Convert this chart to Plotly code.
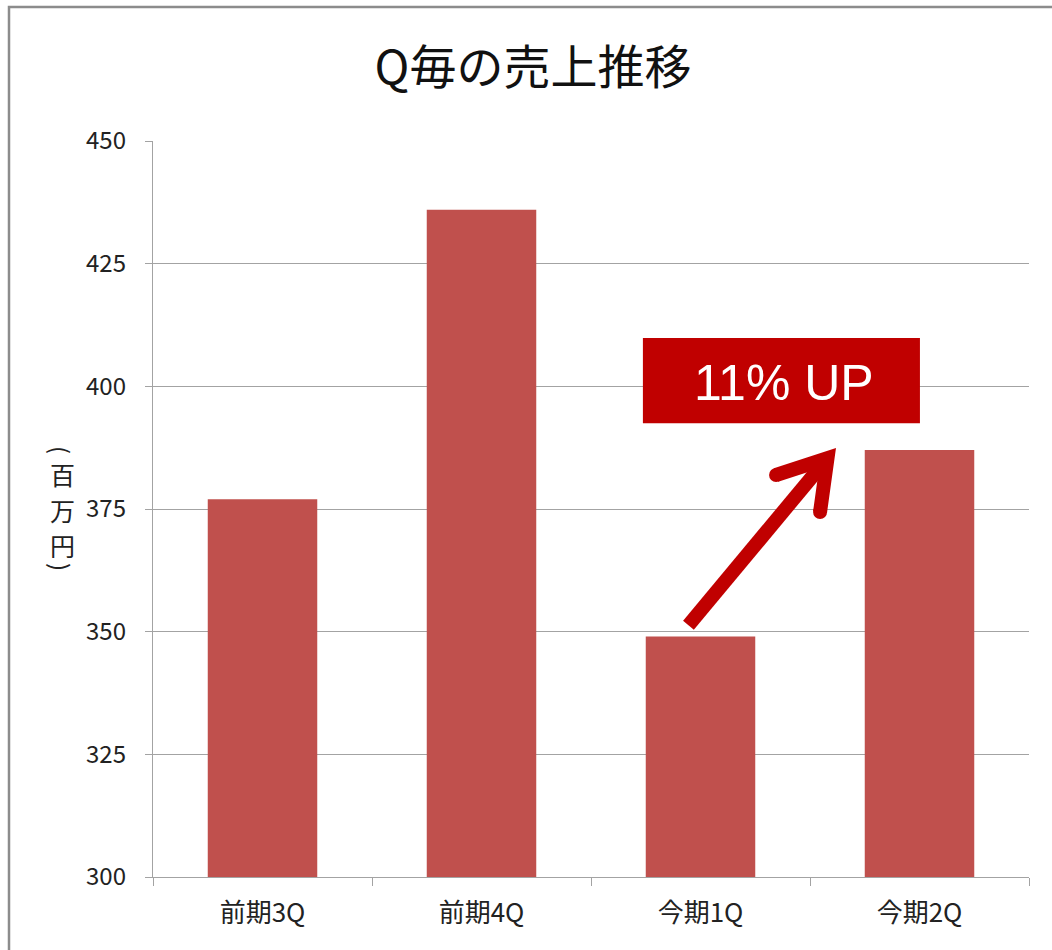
import plotly.graph_objects as go

# Quarterly sales (million yen)
quarters = ["前期3Q", "前期4Q", "今期1Q", "今期2Q"]
sales = [377, 436, 349, 387]
y_ticks = [300, 325, 350, 375, 400, 425, 450]
growth_label = "11% UP"
y_title_chars = ["(", "百", "万", "円", ")"]

BAR = "#C0504D"
ACCENT = "#C00000"
GRID = "#A3A3A3"
JP = "Noto Sans CJK JP, Noto Sans, sans-serif"

W, H = 1052, 950
ML, MR, MT, MB = 153, 23, 141, 73
plot_h = H - MT - MB

fig = go.Figure(
    go.Bar(x=quarters, y=sales, marker=dict(color=BAR, line=dict(width=0)))
)

# Growth arrow from 今期1Q toward 今期2Q (category-index units on x)
i1, i2 = 2, 3
tail = (i1 - 0.055, sales[i1] + 2.3)
tip = (i1 + 0.58, sales[i2] - 1.65)
arm_a = (i1 + 0.345, sales[i2] - 5.07)
arm_b = (i1 + 0.546, sales[i2] - 12.6)

shapes = [
    # outer chart frame
    dict(type="rect", xref="paper", yref="paper",
         x0=(9 - ML) / (W - ML - MR), x1=1.2,
         y0=-0.3, y1=1 + (MT - 7) / plot_h,
         line=dict(color="#8C8C8C", width=2.5), fillcolor="rgba(0,0,0,0)",
         layer="below"),
    # label box
    dict(type="rect", xref="x", yref="y",
         x0=1.737, x1=3.002, y0=392.5, y1=409.85,
         fillcolor=ACCENT, line=dict(width=0), layer="above"),
    # arrow shaft
    dict(type="path", xref="x", yref="y",
         path=f"M{tail[0]},{tail[1]} L{tip[0]},{tip[1]}",
         line=dict(color=ACCENT, width=14)),
    # arrow head
    dict(type="path", xref="x", yref="y",
         path=f"M{arm_a[0]},{arm_a[1]} L{tip[0]},{tip[1]} L{arm_b[0]},{arm_b[1]}",
         line=dict(color=ACCENT, width=14)),
]
rx, ry = 7 / 219, 7 / (plot_h / 150)
for (cx, cy) in (arm_a, arm_b):
    shapes.append(dict(type="circle", xref="x", yref="y",
                       x0=cx - rx, x1=cx + rx, y0=cy - ry, y1=cy + ry,
                       fillcolor=ACCENT, line=dict(width=0)))

annotations = [
    dict(text=growth_label, xref="x", yref="y", x=2.38, y=400.6,
         showarrow=False,
         font=dict(family="Liberation Sans, Arial", size=50, color="white")),
]
# vertical y-axis title, one glyph per line; brackets turned sideways
y_centers = [450, 474, 509.5, 544.5, 567]
for ch, py in zip(y_title_chars, y_centers):
    is_bracket = ch in "()"
    annotations.append(dict(
        text=ch, xref="paper", yref="paper",
        x=(62 - ML) / (W - ML - MR), y=(H - MB - py) / plot_h,
        showarrow=False,
        font=dict(family=JP, size=24 if is_bracket else 25, color="#222222"),
        textangle=90 if is_bracket else 0,
        xanchor="center", yanchor="middle"))

fig.update_layout(
    width=W, height=H,
    margin=dict(l=ML, r=MR, t=MT, b=MB, pad=0),
    paper_bgcolor="white", plot_bgcolor="white",
    bargap=0.5, showlegend=False,
    title=dict(text="Q毎の売上推移", x=533 / W, xanchor="center",
               y=1 - 68 / H, yanchor="middle", yref="container",
               font=dict(family=JP, size=47, color="#111111")),
    shapes=shapes, annotations=annotations,
    font=dict(family=JP, color="#222222"),
)
fig.update_xaxes(
    showline=True, linecolor=GRID, linewidth=1.4,
    ticks="outside", ticklen=8, tickcolor=GRID, tickwidth=1.4,
    tickson="boundaries", showgrid=False,
    tickfont=dict(family=JP, size=26, color="#222222"),
    ticklabelstandoff=13,
)
fig.update_yaxes(
    range=[300, 450], tickvals=y_ticks,
    showline=True, linecolor=GRID, linewidth=1.4,
    ticks="outside", ticklen=7, tickcolor=GRID, tickwidth=1.4,
    showgrid=True, gridcolor=GRID, gridwidth=1.4, zeroline=False,
    tickfont=dict(family=JP, size=24, color="#222222"),
    ticklabelstandoff=14,
)

fig.write_html("out.html")
